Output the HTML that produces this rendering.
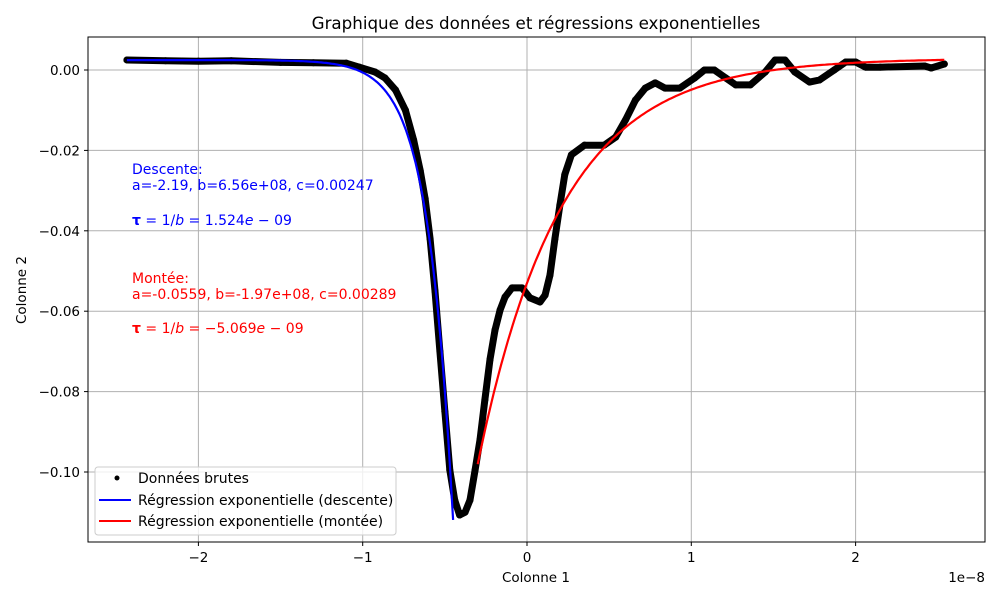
<!DOCTYPE html>
<html><head><meta charset="utf-8"><style>
body{margin:0;background:#fff;}
svg{display:block;font-family:"DejaVu Sans","Liberation Sans",sans-serif;}
</style></head><body>
<svg id="chart" width="1000" height="600" viewBox="0 0 1000 600">
<rect x="0" y="0" width="1000" height="600" fill="#fff"/>
<g id="grid"></g>
<g id="plot"></g>
<rect x="88" y="37" width="897" height="505" fill="none" stroke="#000" stroke-width="1"/>
<g id="axes"></g>
<text x="536" y="29" text-anchor="middle" font-size="16.7">Graphique des données et régressions exponentielles</text>
<text x="536" y="582" text-anchor="middle" font-size="13.5">Colonne 1</text>
<text x="26" y="290" text-anchor="middle" font-size="13.5" transform="rotate(-90 26 290)">Colonne 2</text>
<text x="985" y="582" text-anchor="end" font-size="13.5">1e−8</text>
<g font-size="14" fill="#0000ff">
<text x="132" y="174">Descente:</text>
<text x="132" y="190">a=-2.19, b=6.56e+08, c=0.00247</text>
<text x="132" y="225"><tspan font-weight="bold">τ</tspan> = 1/<tspan font-style="italic">b</tspan> = 1.524<tspan font-style="italic">e</tspan> − 09</text>
</g>
<g font-size="14" fill="#ff0000">
<text x="132" y="283">Montée:</text>
<text x="132" y="299">a=-0.0559, b=-1.97e+08, c=0.00289</text>
<text x="132" y="333"><tspan font-weight="bold">τ</tspan> = 1/<tspan font-style="italic">b</tspan> = −5.069<tspan font-style="italic">e</tspan> − 09</text>
</g>
<g>
<rect x="95" y="467" width="301" height="68" rx="3" fill="#fff" fill-opacity="0.8" stroke="#ccc"/>
<circle cx="117" cy="478" r="2.5" fill="#000"/>
<text x="138" y="483" font-size="14">Données brutes</text>
<line x1="99" y1="500" x2="131" y2="500" stroke="#0000ff" stroke-width="2"/>
<text x="138" y="505" font-size="14">Régression exponentielle (descente)</text>
<line x1="99" y1="521" x2="131" y2="521" stroke="#ff0000" stroke-width="2"/>
<text x="138" y="526" font-size="14">Régression exponentielle (montée)</text>
</g>
</svg>
<script>
const xTicks=[-2,-1,0,1,2];
const yTicks=[0,-0.02,-0.04,-0.06,-0.08,-0.10];
const yTickLabels=["0.00","−0.02","−0.04","−0.06","−0.08","−0.10"];
const rawX=[-2.435,-2.2,-2.0,-1.8,-1.5,-1.3,-1.1,-1.02,-0.925,-0.864,-0.80,-0.74,-0.69,-0.65,-0.62,-0.59,-0.56,-0.53,-0.50,-0.47,-0.44,-0.41,-0.377,-0.347,-0.316,-0.286,-0.256,-0.225,-0.195,-0.164,-0.134,-0.091,-0.030,0.018,0.079,0.11,0.14,0.17,0.20,0.23,0.27,0.35,0.47,0.54,0.60,0.66,0.72,0.78,0.84,0.93,1.02,1.08,1.14,1.21,1.27,1.36,1.45,1.51,1.57,1.63,1.72,1.78,1.87,1.94,2.0,2.06,2.15,2.42,2.46,2.54];
const rawY=[0.0025,0.0023,0.0022,0.0023,0.0019,0.0018,0.0017,0.0007,-0.0005,-0.002,-0.005,-0.010,-0.0174,-0.025,-0.032,-0.042,-0.055,-0.070,-0.085,-0.0995,-0.107,-0.1107,-0.110,-0.107,-0.0995,-0.092,-0.082,-0.072,-0.0647,-0.0597,-0.0565,-0.0542,-0.0542,-0.0567,-0.0577,-0.056,-0.051,-0.042,-0.0336,-0.026,-0.0211,-0.0187,-0.0187,-0.0167,-0.0124,-0.0075,-0.0045,-0.0032,-0.0045,-0.0045,-0.002,0,0,-0.002,-0.0037,-0.0037,-0.0005,0.0025,0.0025,-0.0005,-0.003,-0.0025,0,0.002,0.002,0.0007,0.0007,0.001,0.0005,0.0015];
const descentParams=[-2.19,6.56e8,0.00247];
const descentRange=[-2.435e-8,-0.45e-8];
const riseParams=[-0.0559,-1.97e8,0.00289];
const riseRange=[-0.3e-8,2.54e-8];
const NS='http://www.w3.org/2000/svg';
function sx(v){return 527+v*164.3;}
function sy(v){return 70-v*4020;}
function mk(tag,attrs,parent){const e=document.createElementNS(NS,tag);for(const k in attrs)e.setAttribute(k,attrs[k]);parent.appendChild(e);return e;}
const grid=document.getElementById('grid'),axes=document.getElementById('axes'),plot=document.getElementById('plot');
xTicks.forEach(t=>{
 const g=mk('line',{x1:sx(t),x2:sx(t),y1:37,y2:542,stroke:'#b0b0b0','stroke-width':1},grid);
 
 
 mk('line',{x1:sx(t),x2:sx(t),y1:542,y2:546,stroke:'#000'},axes);
 const l=mk('text',{x:sx(t),y:562,'text-anchor':'middle','font-size':13.5},axes);
 l.textContent=(t<0?'−':'')+Math.abs(t);
 
 
});
yTicks.forEach((t,i)=>{
 const g=mk('line',{x1:88,x2:985,y1:sy(t),y2:sy(t),stroke:'#b0b0b0','stroke-width':1},grid);
 
 
 mk('line',{x1:84,x2:88,y1:sy(t),y2:sy(t),stroke:'#000'},axes);
 const l=mk('text',{x:80,y:sy(t)+5,'text-anchor':'end','font-size':13.5},axes);
 l.textContent=yTickLabels[i];
 
 
});
let d='';
rawX.forEach((x,i)=>{d+=(i?'L':'M')+sx(x).toFixed(1)+','+sy(rawY[i]).toFixed(1);});
const raw=mk('path',{d:d,fill:'none',stroke:'#000','stroke-width':7,'stroke-linejoin':'round','stroke-linecap':'round'},plot);


rawX.forEach((x,i)=>{
 const c=mk('circle',{cx:sx(x),cy:sy(rawY[i]),r:3.5,fill:'#000'},plot);
 
 
});
function curve(p,r,color,name){
 let s='';const n=200;
 for(let i=0;i<=n;i++){const x=r[0]+(r[1]-r[0])*i/n;const y=p[0]*Math.exp(p[1]*x)+p[2];s+=(i?'L':'M')+sx(x*1e8).toFixed(1)+','+sy(y).toFixed(1);}
 const e=mk('path',{d:s,fill:'none',stroke:color,'stroke-width':2.2},plot);
 
 
}
curve(descentParams,descentRange,'#0000ff','descent-regression-line');
curve(riseParams,riseRange,'#ff0000','rise-regression-line');
</script>
</body></html>
